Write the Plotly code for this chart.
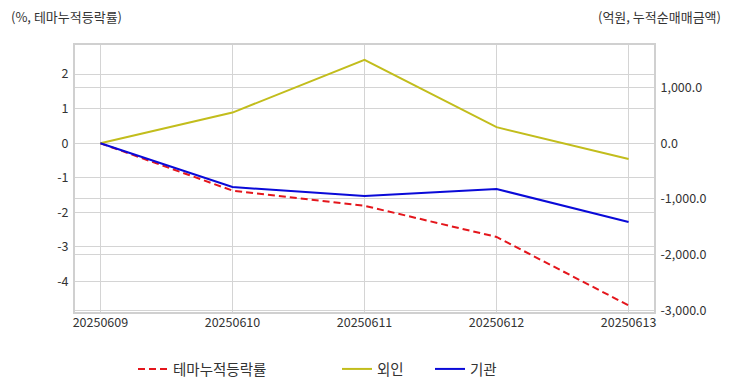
import plotly.graph_objects as go

dates = ["20250609", "20250610", "20250611", "20250612", "20250613"]
theme_rate = [0.0, -1.37, -1.81, -2.71, -4.69]
foreign = [0.0, 550.0, 1498.0, 288.0, -282.0]
institution = [0.0, -786.0, -948.0, -822.0, -1415.0]

left_ticks = [2, 1, 0, -1, -2, -3, -4]
left_tick_labels = ["2", "1", "0", "-1", "-2", "-3", "-4"]
right_ticks = [1000, 0, -1000, -2000, -3000]
right_tick_labels = ["1,000.0", "0.0", "-1,000.0", "-2,000.0", "-3,000.0"]

FONT = "Noto Sans CJK KR"
GRID = "#d4d4d4"
TXT = "#333"

fig = go.Figure()
fig.add_trace(go.Scatter(x=dates, y=theme_rate, name="테마누적등락률", mode="lines",
                         line=dict(color="#e4161c", width=2, dash="7px,4px"), yaxis="y", legend="legend"))
fig.add_trace(go.Scatter(x=dates, y=foreign, name="외인", mode="lines",
                         line=dict(color="#c2bd1c", width=2), yaxis="y2", legend="legend2"))
fig.add_trace(go.Scatter(x=dates, y=institution, name="기관", mode="lines",
                         line=dict(color="#0a0ad8", width=2), yaxis="y2", legend="legend3"))

W, H = 732, 392
L, R, T, B = 74, 77, 44, 79

leg_common = dict(orientation="h", yref="container", xref="container", yanchor="middle",
                  y=(H - 369) / H, xanchor="left",
                  font=dict(family=FONT, size=14.5, color=TXT), bgcolor="rgba(0,0,0,0)")

fig.update_layout(
    width=W, height=H,
    margin=dict(l=L, r=R, t=T, b=B, autoexpand=False),
    plot_bgcolor="white", paper_bgcolor="white",
    font=dict(family=FONT, size=12, color=TXT),
    showlegend=True,
    xaxis=dict(type="category", range=[-0.2, 4.2], showgrid=True, gridcolor=GRID, gridwidth=1,
               tickfont=dict(size=12.5, color=TXT), ticks="", zeroline=False, showline=False,
               automargin=False),
    yaxis=dict(range=[-4.91, 2.87], tickmode="array", tickvals=left_ticks, ticktext=left_tick_labels,
               showgrid=True, gridcolor=GRID,
               zeroline=False, tickfont=dict(size=12.5, color=TXT), ticks="outside",
               ticklen=2, tickcolor="rgba(0,0,0,0)", automargin=False),
    yaxis2=dict(range=[-3047, 1781], tickmode="array", tickvals=right_ticks, ticktext=right_tick_labels,
                overlaying="y", side="right",
                showgrid=True, gridcolor=GRID, zeroline=False,
                tickfont=dict(size=12.5, color=TXT), ticks="outside", ticklen=2,
                tickcolor="rgba(0,0,0,0)", automargin=False),
    legend=dict(x=133 / W, **leg_common),
    legend2=dict(x=337 / W, **leg_common),
    legend3=dict(x=430 / W, **leg_common),
    shapes=[dict(type="rect", xref="paper", yref="paper", x0=0, x1=1, y0=0, y1=1,
                 line=dict(color="#d0d0d0", width=2), layer="above")],
    annotations=[
        dict(text="(%, 테마누적등락률)", xref="paper", yref="paper", x=(9 - L) / (W - L - R),
             y=(H - B - 16) / (H - T - B),
             xanchor="left", yanchor="middle", showarrow=False, font=dict(size=13, color=TXT)),
        dict(text="(억원, 누적순매매금액)", xref="paper", yref="paper", x=(723 - L) / (W - L - R),
             y=(H - B - 16) / (H - T - B),
             xanchor="right", yanchor="middle", showarrow=False, font=dict(size=13, color=TXT)),
    ],
)

fig.write_html("out.html", config={"displayModeBar": False},
               post_script="document.body.style.margin='0';")
